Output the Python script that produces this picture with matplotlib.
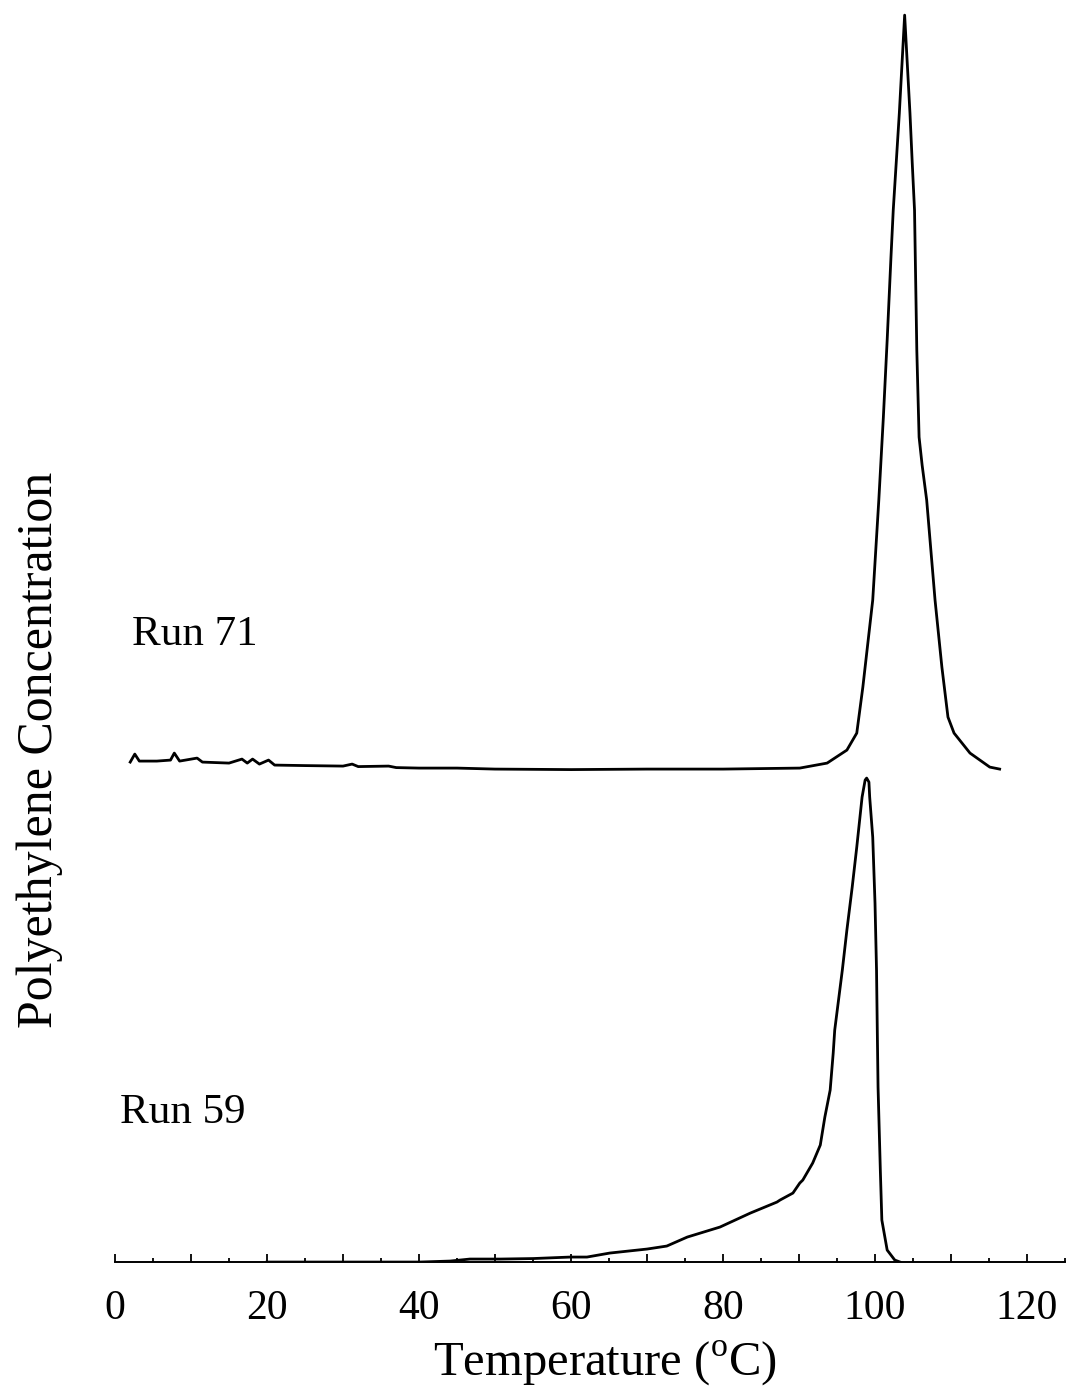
import matplotlib
matplotlib.use("Agg")
import matplotlib.pyplot as plt
from matplotlib.ticker import MultipleLocator, FuncFormatter
import numpy as np

plt.rcParams['font.family'] = ['Liberation Serif', 'DejaVu Serif']
plt.rcParams['mathtext.fontset'] = 'custom'
plt.rcParams['mathtext.rm'] = 'Liberation Serif'

# Run 71 trace (temperature in C, signal above its own baseline)
run71_temp = [2.0, 2.6, 3.2, 5.5, 7.3, 7.8, 8.5, 10.8, 11.5, 15.0, 16.7, 17.4,
              18.1, 19.0, 20.2, 21.0, 25.0, 30.0, 31.2, 32.0, 36.0, 37.0, 40.0,
              45.0, 50.0, 60.0, 70.0, 80.0, 90.1, 93.7, 96.3, 97.6, 98.4, 99.7,
              100.5, 101.1, 101.6, 102.1, 102.4, 103.2, 103.9, 104.6, 104.9,
              105.2, 105.3, 105.5, 105.8, 106.2, 106.8, 107.9, 108.8, 109.6,
              110.4, 112.5, 115.1, 116.4]
run71_signal = [0.7, 1.5, 0.8, 0.8, 0.9, 1.6, 0.8, 1.1, 0.7, 0.6, 1.0, 0.6,
                1.0, 0.5, 0.9, 0.4, 0.35, 0.3, 0.5, 0.25, 0.3, 0.15, 0.1,
                0.1, 0.0, -0.05, 0.0, 0.0, 0.1, 0.6, 1.9, 3.6, 8.2, 16.9,
                26.9, 35.2, 42.9, 51.2, 55.9, 65.6, 75.4, 65.6, 60.6,
                55.9, 51.2, 41.9, 33.2, 30.4, 26.9, 16.9, 10.2, 5.2,
                3.6, 1.6, 0.2, 0.0]
run71_offset = 49.3

# Run 59 trace
run59_temp = [20.0, 30.0, 40.1, 44.1, 46.7, 50.7, 55.0, 59.9, 62.1, 65.1, 70.0,
              72.6, 75.3, 79.6, 83.6, 87.1, 87.5, 89.2, 90.1, 90.5, 91.8, 92.8,
              93.4, 94.1, 94.5, 94.7, 95.7, 96.3, 97.0, 97.6, 98.3, 98.7, 98.9,
              99.2, 99.3, 99.7, 100.0, 100.2, 100.3, 100.4, 100.7, 100.9, 101.6,
              102.6, 103.3]
run59_signal = [0.0, 0.0, 0.0, 0.1, 0.3, 0.3, 0.35, 0.5, 0.5, 0.9, 1.3,
                1.6, 2.5, 3.5, 4.9, 6.0, 6.2, 6.9, 7.9, 8.2, 9.9, 11.7,
                14.5, 17.2, 20.9, 23.2, 29.2, 33.2, 37.5, 41.5, 46.5, 48.2, 48.4,
                48.0, 46.5, 42.5, 35.9, 29.2, 23.2, 17.5, 9.2, 4.2, 1.2,
                0.2, 0.0]

fig = plt.figure(figsize=(10.71, 13.95), dpi=100)
ax = fig.add_axes([0.1074, 0.0953, 0.887, 0.896])

ax.plot(run71_temp, np.array(run71_signal) + run71_offset, color='black', lw=2.0)
ax.plot(run59_temp, run59_signal, color='black', lw=2.0)

ax.set_xlim(0, 125)
ax.set_ylim(0, 125)

for s in ['left', 'right', 'top']:
    ax.spines[s].set_visible(False)
ax.spines['bottom'].set_linewidth(1.4)
ax.set_yticks([])

ax.xaxis.set_major_locator(MultipleLocator(10))
ax.xaxis.set_minor_locator(MultipleLocator(5))
ax.xaxis.set_major_formatter(FuncFormatter(lambda v, p: '%d' % v if int(v) % 20 == 0 else ''))
ax.tick_params(axis='x', which='major', direction='in', length=6, width=1.3,
               labelsize=30, pad=20)
ax.tick_params(axis='x', which='minor', direction='in', length=3, width=1.3)

ax.text(2.2, 62.7, 'Run 71', fontsize=31, va='center', ha='left')
ax.text(0.7, 14.9, 'Run 59', fontsize=31, va='center', ha='left')

fig.text(605 / 1071, 1 - 1363 / 1395, r'Temperature ($^{\mathrm{o}}$C)',
         fontsize=35, ha='center', va='center')
fig.text(40 / 1071, 1 - 750 / 1395, 'Polyethylene Concentration',
         fontsize=36, ha='center', va='center', rotation=90)

fig.savefig('out.png', dpi=100)
